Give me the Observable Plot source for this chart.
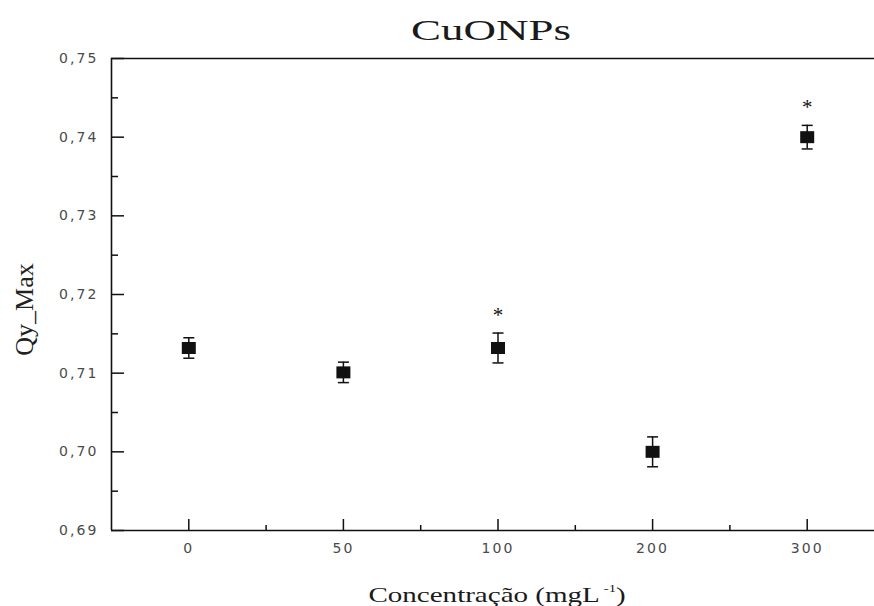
<!DOCTYPE html>
<html>
<head>
<meta charset="utf-8">
<script src="https://cdn.jsdelivr.net/npm/d3@7"></script>
<script src="https://cdn.jsdelivr.net/npm/@observablehq/plot@0.6"></script>
<style>
  html, body { margin: 0; padding: 0; background: #fff; }
  body { width: 874px; height: 606px; overflow: hidden; }
  #title { position: relative; height: 48px; font-family: "Liberation Serif", "Times New Roman", serif; font-size: 29px; line-height: 1; color: #1a1a1a; }
  #title span { position: absolute; top: 16px; left: 491px; transform: translateX(-50%) scaleX(1.55); white-space: nowrap; }
  #xlabel { position: relative; height: 38px; font-family: "Liberation Serif", "Times New Roman", serif; font-size: 22px; line-height: 1; color: #1a1a1a; }
  #xlabel span { position: absolute; top: 16px; left: 497px; transform: translateX(-50%) scaleX(1.32); white-space: nowrap; }
  #xlabel sup { font-size: 0.5em; vertical-align: 0.9em; line-height: 0; margin-left: 3px; }
  #chart svg { letter-spacing: 2.1px; }
  #chart svg g[aria-label="text"] text { letter-spacing: 0; }
</style>
</head>
<body>
<div id="title"><span>CuONPs</span></div>
<div id="chart"></div>
<div id="xlabel"><span>Concentração (mgL<sup>-1</sup>)</span></div>
<script>
// ---- data ----
const categories = ["0", "50", "100", "200", "300"];
const values = [0.7132, 0.7101, 0.7132, 0.7000, 0.7400];
const errors = [0.0013, 0.0013, 0.0019, 0.0019, 0.0015];
const significant = [false, false, true, false, true];
const yTicks = [0.69, 0.70, 0.71, 0.72, 0.73, 0.74, 0.75];
const yMinorTicks = [0.695, 0.705, 0.715, 0.725, 0.735, 0.745];
const xMinorTicks = [0.5, 1.5, 2.5, 3.5];
const yLabel = "Qy_Max";

const data = categories.map((c, i) => ({i, c, v: values[i], e: errors[i], sig: significant[i]}));
const xDomain = [-0.5, categories.length - 0.5];
const yDomain = [yTicks[0], yTicks[yTicks.length - 1]];

// layout
const W = 874, H = 520, mT = 10, mB = 38, mL = 111, mR = 0;
const frameW = W - mL - mR, frameH = H - mT - mB;

// custom symbols (centered shapes)
const rectSym = {draw(c) { c.rect(-7, -6, 14, 12); }};
const hLine = L => ({draw(c) { c.moveTo(-L / 2, 0); c.lineTo(L / 2, 0); }});

const serif = "Liberation Serif, Times New Roman, serif";
const ink = "#111";

const chart = Plot.plot({
  width: W,
  height: H,
  marginTop: mT,
  marginBottom: mB,
  marginLeft: mL,
  marginRight: mR,
  style: {fontFamily: "DejaVu Sans, Verdana, sans-serif", fontSize: "14px", color: "#4a4a4a", background: "white"},
  x: {domain: xDomain, range: [mL, 884], ticks: d3.range(categories.length), tickFormat: i => categories[i], tickSize: 0, tickPadding: 13, label: null},
  y: {domain: yDomain, ticks: yTicks, tickFormat: d => d.toFixed(2).replace(".", ","), tickSize: 0, tickPadding: 13, label: null},
  marks: [
    Plot.ruleY([yDomain[1]], {stroke: ink, strokeWidth: 1.6}),
    Plot.ruleY([yDomain[0]], {stroke: ink, strokeWidth: 1.6}),
    Plot.ruleX([xDomain[0]], {stroke: ink, strokeWidth: 1.6}),
    // inward ticks on the left axis
    Plot.tickY(yTicks, {y: d => d, insetRight: frameW - 13, stroke: ink, strokeWidth: 1.5}),
    Plot.tickY(yMinorTicks, {y: d => d, insetRight: frameW - 7, stroke: ink, strokeWidth: 1.5}),
    // inward ticks on the bottom axis
    Plot.tickX(d3.range(categories.length), {x: d => d, insetTop: frameH - 11, stroke: ink, strokeWidth: 1.5}),
    Plot.tickX(xMinorTicks, {x: d => d, insetTop: frameH - 5, stroke: ink, strokeWidth: 1.5}),
    // error bars
    Plot.ruleX(data, {x: "i", y1: d => d.v - d.e, y2: d => d.v + d.e, stroke: ink, strokeWidth: 1.5}),
    Plot.dot(data, {x: "i", y: d => d.v + d.e, symbol: hLine(11), fill: "none", stroke: ink, strokeWidth: 1.5}),
    Plot.dot(data, {x: "i", y: d => d.v - d.e, symbol: hLine(11), fill: "none", stroke: ink, strokeWidth: 1.5}),
    Plot.dot(data, {x: "i", y: "v", symbol: rectSym, fill: ink, stroke: "none"}),
    Plot.text(data.filter(d => d.sig), {x: "i", y: d => d.v + d.e, text: () => "*", dy: -18, fontFamily: serif, fontSize: 21, fill: ink}),
    Plot.text([yLabel], {frameAnchor: "left", textAnchor: "middle", text: d => d, rotate: -90, dx: -87, dy: 15, fontFamily: serif, fontSize: 26, fill: "#222"})
  ]
});
document.getElementById("chart").appendChild(chart);
</script>
</body>
</html>
